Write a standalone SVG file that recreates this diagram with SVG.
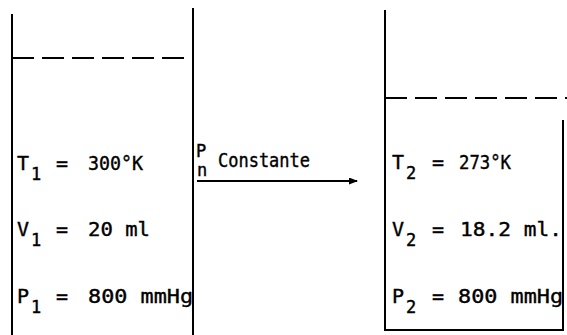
<svg xmlns="http://www.w3.org/2000/svg" width="567" height="335" viewBox="0 0 567 335">
<defs>
<style>
.w{stroke:#000;stroke-width:2;fill:none}
.d{stroke:#000;stroke-width:2;fill:none;stroke-dasharray:22 8}
text{font-family:"DejaVu Sans Mono","Liberation Mono",monospace;fill:#000;stroke:#000;stroke-width:0.4}
.m{font-size:20px}
.s{font-size:17px}
</style>
<marker id="ah" markerWidth="9" markerHeight="7" refX="8" refY="3.5" orient="auto" markerUnits="userSpaceOnUse">
<path d="M0,0 L9,3.5 L0,7 Z" fill="#000"/>
</marker>
</defs>
<g id="state1">
<path class="w" d="M12,14 V335 M193,8 V335"/>
<path class="d" d="M12,58 H193"/>
<text class="m" x="17" y="170">T</text><text class="s" x="31" y="180">1</text>
<text class="m" x="56" y="170">=</text>
<text class="m" x="88" y="170" textLength="55" lengthAdjust="spacingAndGlyphs">300°K</text>
<text class="m" x="17" y="236">V</text><text class="s" x="31" y="246">1</text>
<text class="m" x="56" y="236">=</text>
<text class="m" x="88" y="236" textLength="62" lengthAdjust="spacingAndGlyphs">20 ml</text>
<text class="m" x="17" y="303">P</text><text class="s" x="31" y="313">1</text>
<text class="m" x="56" y="303">=</text>
<text class="m" x="88" y="303" textLength="105" lengthAdjust="spacingAndGlyphs">800 mmHg</text>
</g>
<g id="process">
<text class="s" x="196" y="157">P</text>
<text class="s" x="197" y="176">n</text>
<text class="m" x="218" y="167" textLength="92" lengthAdjust="spacingAndGlyphs">Constante</text>
</g>
<g id="state2">
<path class="w" d="M385,10 V330 H563 V120"/>
<path class="d" d="M385,98 H567"/>
<text class="m" x="392" y="169">T</text><text class="s" x="406" y="179">2</text>
<text class="m" x="432" y="169">=</text>
<text class="m" x="459" y="169" textLength="52" lengthAdjust="spacingAndGlyphs">273°K</text>
<text class="m" x="392" y="236">V</text><text class="s" x="406" y="246">2</text>
<text class="m" x="432" y="236">=</text>
<text class="m" x="460" y="236" textLength="102" lengthAdjust="spacingAndGlyphs">18.2 ml.</text>
<text class="m" x="392" y="303">P</text><text class="s" x="406" y="313">2</text>
<text class="m" x="432" y="303">=</text>
<text class="m" x="458" y="303" textLength="105" lengthAdjust="spacingAndGlyphs">800 mmHg</text>
</g>
<g id="connectors">
<path class="w" d="M197,181 H357" marker-end="url(#ah)"/>
</g>
</svg>
